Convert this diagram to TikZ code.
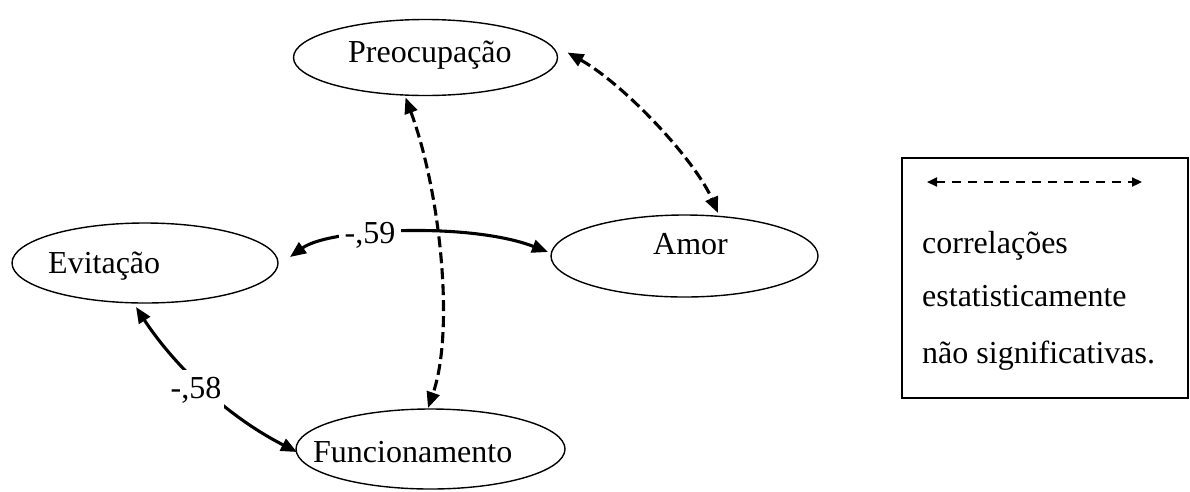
\documentclass[tikz,border=0pt]{standalone}
\usepackage{fontspec}
\setmainfont{Liberation Serif}
\usetikzlibrary{arrows.meta,shapes.geometric}
\begin{document}
\begin{tikzpicture}[x=1pt,y=-1pt,
  ell/.style={draw,ellipse,line width=1.4pt,inner sep=0pt},
  txt/.style={anchor=base west,inner sep=0pt,font=\fontsize{32}{38}\selectfont},
  lab/.style={anchor=base,fill=white,inner xsep=5pt,inner ysep=4pt,font=\fontsize{32}{38}\selectfont},
  rel/.style={line width=3.1pt,{Triangle[length=16pt,width=13pt]}-{Triangle[length=16pt,width=13pt]}},
  nsrel/.style={rel,dash pattern=on 11pt off 5pt},
  legarrow/.style={line width=2.2pt,dash pattern=on 9pt off 7pt,{Triangle[length=10pt,width=9pt]}-{Triangle[length=10pt,width=9pt]}}
]
\useasboundingbox (0,0) rectangle (1190,491);
% ellipses
\node[ell,minimum width=264pt,minimum height=76pt] (pre) at (425.5,57.5) {};
\node[ell,minimum width=266pt,minimum height=80pt] (evit) at (145,263) {};
\node[ell,minimum width=267pt,minimum height=82pt] (amor) at (684.5,256) {};
\node[ell,minimum width=269pt,minimum height=80pt] (func) at (430.5,449) {};
% texts
\node[txt] (tpre) at (348,62) {Preocupação};
\node[txt] (tevit) at (48,273) {Evitação};
\node[txt] (tamor) at (653,254) {Amor};
\node[txt] (tfunc) at (313,462) {Funcionamento};
% dashed (non-significant) correlations
\draw[nsrel] ([shift={(142,-5)}]pre.center) .. controls (625,85) and (695,160) .. ([shift={(33.5,-43)}]amor.center);
\draw[nsrel] ([shift={(-20,40)}]pre.center) .. controls (440,190) and (455,330) .. ([shift={(-2.5,-41)}]func.center);
% significant correlations
\draw[rel] ([shift={(145,-6)}]evit.center) .. controls (330,228) and (470,222) .. ([shift={(-136.5,-4)}]amor.center);
\node[lab,inner xsep=6pt,inner ysep=3pt] (l59) at (370,243) {-,59};
\draw[rel] ([shift={(-9,44)}]evit.center) .. controls (165,352) and (215,410) .. ([shift={(-133.5,3)}]func.center);
\node[lab,inner xsep=3pt,inner ysep=7pt] (l58) at (196,398) {-,58};
% legend
\node[draw,line width=1.5pt,minimum width=286pt,minimum height=240pt,inner sep=0pt] (leg) at (1045,278) {};
\coordinate (la) at (927,182);
\coordinate (lb) at (1142,182);
\draw[legarrow] (la) -- (lb);
\node[txt] (leg1) at (922,253) {correlações};
\node[txt] (leg2) at (922,306) {estatisticamente};
\node[txt] (leg3) at (922,363) {não significativas.};
\end{tikzpicture}
\end{document}
